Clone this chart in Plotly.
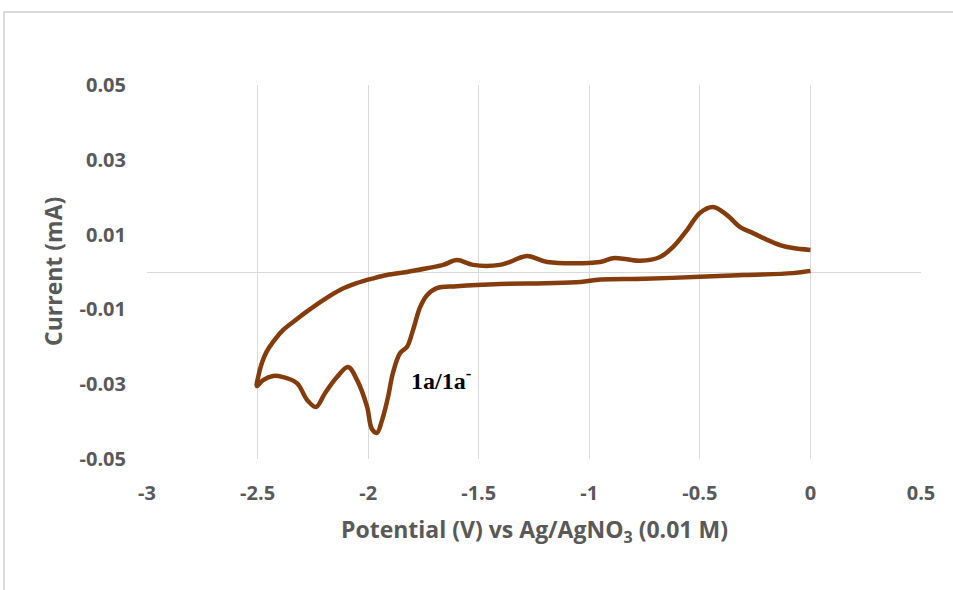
import plotly.graph_objects as go

# Cyclic voltammogram: forward scan (0 -> -2.5 V) then reverse scan (-2.5 -> 0 V)
potential = [0.0, -0.08, -0.3, -0.5, -0.75, -0.95, -1.04, -1.2, -1.404, -1.6, -1.689,
             -1.734, -1.765, -1.797, -1.824, -1.856, -1.888, -1.910, -1.937, -1.960, -1.983,
             -2.005, -2.050, -2.091, -2.141, -2.195, -2.236, -2.276, -2.322, -2.385, -2.430,
             -2.475, -2.503,
             -2.497, -2.481, -2.459, -2.429, -2.384, -2.338, -2.278, -2.203, -2.127, -2.052,
             -1.977, -1.915, -1.824,
             -1.734, -1.660, -1.598, -1.526, -1.404, -1.358, -1.282, -1.190, -0.952, -0.893,
             -0.830, -0.770, -0.680, -0.621, -0.558, -0.500, -0.440, -0.377, -0.318, -0.260,
             -0.196, -0.138, -0.079, 0.0]
current = [0.0003, -0.0003, -0.0008, -0.0013, -0.0018, -0.0020, -0.0027, -0.0030, -0.0032, -0.0038, -0.0043,
           -0.0062, -0.0094, -0.0155, -0.0200, -0.0217, -0.0270, -0.0334, -0.0396, -0.0430, -0.0420,
           -0.0360, -0.0289, -0.0254, -0.0281, -0.0324, -0.0361, -0.0342, -0.0297, -0.0281, -0.0278,
           -0.0289, -0.0305,
           -0.0280, -0.0244, -0.0213, -0.0186, -0.0155, -0.0133, -0.0106, -0.0075, -0.0048, -0.0030,
           -0.0017, -0.0008, 0.0,
           0.0010, 0.0019, 0.0032, 0.0019, 0.0019, 0.0027, 0.0043, 0.0027, 0.0027, 0.0037,
           0.0034, 0.0030, 0.0040, 0.0067, 0.0112, 0.0158, 0.0174, 0.0152, 0.0120, 0.0104,
           0.0086, 0.0072, 0.0064, 0.0059]

x_ticks = [-3, -2.5, -2, -1.5, -1, -0.5, 0, 0.5]
x_tick_labels = ["-3", "-2.5", "-2", "-1.5", "-1", "-0.5", "0", "0.5"]
y_ticks = [-0.05, -0.03, -0.01, 0.01, 0.03, 0.05]
y_tick_labels = ["-0.05", "-0.03", "-0.01", "0.01", "0.03", "0.05"]

peak_label = "1a/1a<sup>-</sup>"
peak_pos = (-1.671, -0.0285)

GRAY = "#595959"
GRID = "#d9d9d9"
FONT = "Open Sans"

fig = go.Figure()
fig.add_trace(go.Scatter(
    x=potential, y=current, mode="lines",
    line=dict(color="#843C0C", width=4.5, shape="spline", smoothing=1.0),
    showlegend=False, hoverinfo="skip"))

W, H = 953, 590
L, R, T, B = 147, 921, 85, 459

fig.update_layout(
    width=W, height=H,
    margin=dict(l=L, r=W - R, t=T, b=H - B, pad=0),
    paper_bgcolor="white", plot_bgcolor="white",
    xaxis=dict(range=[-3, 0.5], tickvals=x_ticks, ticktext=x_tick_labels,
               showgrid=True, gridcolor=GRID, gridwidth=1,
               zeroline=True, zerolinecolor=GRID, zerolinewidth=1,
               showline=False, ticks="", ticklabelstandoff=20,
               tickfont=dict(family=FONT, size=20, color=GRAY, weight="bold")),
    yaxis=dict(range=[-0.05, 0.05], tickvals=y_ticks, ticktext=y_tick_labels,
               showgrid=False, zeroline=True, zerolinecolor=GRID, zerolinewidth=1,
               showline=False, ticks="", ticklabelstandoff=20,
               tickfont=dict(family=FONT, size=20, color=GRAY, weight="bold")),
)

fig.add_annotation(x=peak_pos[0], y=peak_pos[1], xref="x", yref="y", text=peak_label,
                   showarrow=False, font=dict(family="Liberation Serif", size=24, color="black", weight="bold"))

# axis titles
fig.add_annotation(x=(53 - L) / (R - L), y=(B - 272) / (B - T), xref="paper", yref="paper",
                   xanchor="center", yanchor="middle",
                   text="Current (mA)", textangle=-90, showarrow=False,
                   font=dict(family=FONT, size=23, color=GRAY, weight="bold"))
fig.add_annotation(x=(534 - L) / (R - L), y=(B - 530) / (B - T), xref="paper", yref="paper",
                   xanchor="center", yanchor="middle",
                   text="Potential (V) vs Ag/AgNO<sub>3</sub> (0.01 M)", showarrow=False,
                   font=dict(family=FONT, size=23, color=GRAY, weight="bold"))

# outer chart border
fig.add_shape(type="rect", xref="paper", yref="paper",
              x0=(4 - L) / (R - L), x1=(965 - L) / (R - L),
              y0=(B - 600) / (B - T), y1=(B - 12) / (B - T),
              line=dict(color=GRID, width=2), fillcolor="rgba(0,0,0,0)", layer="below")

fig.write_html("out.html")
